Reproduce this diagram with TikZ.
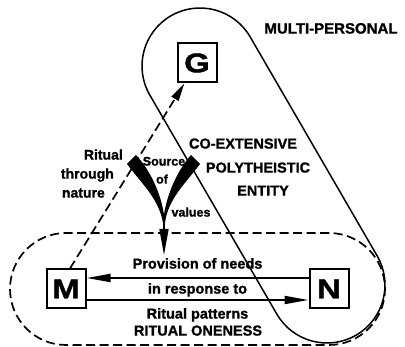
\documentclass[tikz,border=0pt]{standalone}
\usepackage{fontspec}
\setmainfont{Liberation Sans}[BoldFeatures={FakeBold=1.2}]
\newfontfamily\boxfont{Liberation Sans}[FakeStretch=1.22,BoldFeatures={FakeBold=1.5}]
\usetikzlibrary{arrows.meta}
\begin{document}
\begin{tikzpicture}[x=1pt,y=1pt,
  box/.style={draw,line width=2pt,minimum size=39pt,inner sep=0pt,fill=white,
    font=\boxfont\fontsize{27}{27}\selectfont\bfseries},
  lbl/.style={font=\fontsize{14.5}{16}\selectfont\bfseries,inner sep=0pt,text height=0.72em,text depth=0pt},
  slbl/.style={font=\fontsize{14}{15}\selectfont\bfseries,inner sep=0pt,text height=0.72em,text depth=0pt},
  tlbl/.style={font=\fontsize{12.5}{13}\selectfont\bfseries,inner sep=0pt,text height=0.72em,text depth=0pt},
  dsh/.style={line width=1.7pt,dash pattern=on 9pt off 4.5pt},
  solidline/.style={line width=1.5pt},
  bigtip/.style={-{Triangle[length=24pt,width=8pt]}},
  dashtip/.style={-{Triangle[length=18pt,width=8pt]}},
  downtip/.style={-{Triangle[length=26pt,width=9pt]}},
]
\useasboundingbox (0,0) rectangle (405,347);
% solid capsule (multi-personal)
\coordinate (C1) at (200,281);
\coordinate (C2) at (327,62);
\draw[solidline] ([shift={(30.1:58)}]C1) arc[start angle=30.1,end angle=210.1,radius=58]
  -- ([shift={(210.1:58)}]C2) arc[start angle=210.1,end angle=390.1,radius=58] -- cycle;
% dashed stadium (ritual oneness)
\coordinate (L) at (66,58);
\coordinate (R) at (329,58);
\draw[dsh] ([shift={(90:56)}]R) -- ([shift={(90:56)}]L) arc[start angle=90,end angle=270,radius=56]
  -- ([shift={(270:56)}]R) arc[start angle=270,end angle=450,radius=56];
% boxes
\node[box] (G) at (197,284) {G};
\node[box] (M) at (66,58) {M};
\node[box] (N) at (329,58) {N};
% arrows between M and N
\draw[line width=2pt,bigtip] ([yshift=11pt]N.west) -- ([yshift=11pt]M.east);
\draw[line width=2pt,bigtip] ([yshift=-11pt]M.east) -- ([yshift=-11pt]N.west);
% dashed arrow M to G
\draw[dsh,dashtip] ([xshift=4pt]M.north) -- (G);
% wedges
\fill (127,183) .. controls (142,163) and (159,148) .. (163,124)
  -- (165,124) .. controls (163,150) and (151,176) .. (136,192) -- cycle;
\fill (200,183) .. controls (185,163) and (168,148) .. (165,124)
  -- (163,124) .. controls (165,150) and (177,176) .. (191,192) -- cycle;
\coordinate (W) at (164,125);
\coordinate (Wt) at (164,92);
\draw[line width=1.5pt,downtip] (W) -- (Wt);
% labels
\node[lbl,font=\fontsize{15}{16}\selectfont\bfseries] (mp) at (331,317) {MULTI-PERSONAL};
\node[lbl] (co1) at (243,202) {CO-EXTENSIVE};
\node[lbl] (co2) at (258,178) {POLYTHEISTIC};
\node[lbl] (co3) at (263,155) {ENTITY};
\node[slbl,anchor=east] (r1) at (123,191) {Ritual};
\node[slbl,anchor=east] (r2) at (114,172) {through};
\node[slbl,anchor=east] (r3) at (105,153) {nature};
\node[tlbl] (s1) at (164,185) {Source};
\node[tlbl] (s2) at (162,167) {of};
\node[tlbl] (s3) at (191,134) {values};
\node[lbl] (p1) at (197.5,82) {Provision of needs};
\node[lbl] (p2) at (197.5,57) {in response to};
\node[lbl] (p3) at (197.5,32) {Ritual patterns};
\node[lbl] (p4) at (198,15) {RITUAL ONENESS};
\end{tikzpicture}
\end{document}
